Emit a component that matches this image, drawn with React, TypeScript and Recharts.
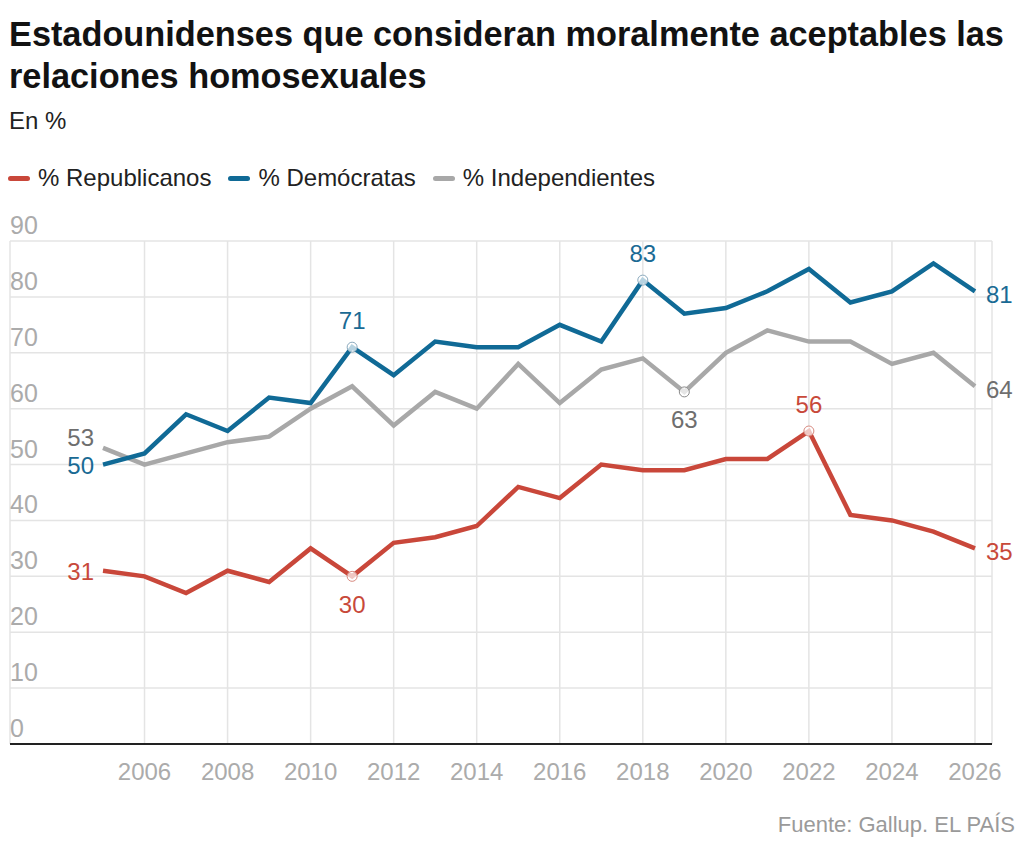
import React from "react";
import { LineChart, Line, XAxis, YAxis, CartesianGrid } from "recharts";

const years = [2005, 2006, 2007, 2008, 2009, 2010, 2011, 2012, 2013, 2014, 2015, 2016, 2017, 2018, 2019, 2020, 2021, 2022, 2023, 2024, 2025, 2026];
const republicanos = [31, 30, 27, 31, 29, 35, 30, 36, 37, 39, 46, 44, 50, 49, 49, 51, 51, 56, 41, 40, 38, 35];
const democratas = [50, 52, 59, 56, 62, 61, 71, 66, 72, 71, 71, 75, 72, 83, 77, 78, 81, 85, 79, 81, 86, 81];
const independientes = [53, 50, 52, 54, 55, 60, 64, 57, 63, 60, 68, 61, 67, 69, 63, 70, 74, 72, 72, 68, 70, 64];

const xTicks = [2006, 2008, 2010, 2012, 2014, 2016, 2018, 2020, 2022, 2024, 2026];
const yTicks = [0, 10, 20, 30, 40, 50, 60, 70, 80, 90];

// annotations: year -> label position
const repLabels: Record<number, string> = { 2005: "left", 2011: "bottom", 2022: "top", 2026: "right" };
const demLabels: Record<number, string> = { 2005: "left", 2011: "top", 2018: "top", 2026: "right" };
const indLabels: Record<number, string> = { 2005: "leftAbove", 2019: "bottom", 2026: "right" };
const repDots = [2011, 2022];
const demDots = [2011, 2018];
const indDots = [2019];

const data = years.map((y, i) => ({
  year: y,
  rep: republicanos[i],
  dem: democratas[i],
  ind: independientes[i],
}));

const FONT = "'Liberation Sans', Arial, sans-serif";
const RED = "#c9473a";
const BLUE = "#106a96";
const GRAY = "#a8a8a8";
const RED_T = "#c8493a";
const BLUE_T = "#1a6a94";
const GRAY_T = "#6e6e6e";

const makeLabel = (map: Record<number, string>, color: string) => (props: any) => {
  const { x, y, index, value } = props;
  const yr = years[index];
  const pos = map[yr];
  if (!pos) return <g key={"l" + index} />;
  let tx = x;
  let ty = y;
  let anchor: "start" | "middle" | "end" = "middle";
  if (pos === "left") { tx = x - 9; anchor = "end"; ty = y + 1; }
  if (pos === "leftAbove") { tx = x - 9; anchor = "end"; ty = y - 10; }
  if (pos === "right") { tx = x + 11; anchor = "start"; ty = y + 3; }
  if (pos === "top") { ty = y - 27; }
  if (pos === "bottom") { ty = y + 28; }
  return (
    <text key={"l" + index} x={tx} y={ty} textAnchor={anchor} dominantBaseline="central"
      fill={color} fontSize={24} fontFamily={FONT}>
      {value}
    </text>
  );
};

const makeDot = (list: number[], stroke: string) => (props: any) => {
  const { cx, cy, index } = props;
  if (!list.includes(years[index])) return <g key={"d" + index} />;
  return <circle key={"d" + index} cx={cx} cy={cy} r={5} fill="rgba(255,255,255,0.7)" stroke={stroke} strokeWidth={1} />;
};

const YTick = (props: any) => {
  const { x, y, payload } = props;
  return (
    <text x={x} y={y - 7} textAnchor="start" fill="#ababab" fontSize={25} fontFamily={FONT}>
      {payload.value}
    </text>
  );
};

const XTick = (props: any) => {
  const { x, y, payload } = props;
  return (
    <text x={x} y={y + 36} textAnchor="middle" fill="#ababab" fontSize={24} fontFamily={FONT}>
      {payload.value}
    </text>
  );
};

const legendItems = [
  { name: "% Republicanos", color: RED },
  { name: "% Demócratas", color: BLUE },
  { name: "% Independientes", color: GRAY },
];

export default function App() {
  return (
    <div style={{ position: "absolute", left: 0, top: 0, width: 1024, height: 851, background: "#fff", fontFamily: FONT, overflow: "hidden" }}>
      <div style={{ position: "absolute", left: 9, top: 13, width: 1012, fontSize: 34.3, lineHeight: "42px", fontWeight: 700, color: "#121212" }}>
        Estadounidenses que consideran moralmente aceptables las relaciones homosexuales
      </div>
      <div style={{ position: "absolute", left: 9, top: 107, fontSize: 24, color: "#222" }}>En %</div>
      <div style={{ position: "absolute", left: 8, top: 164, display: "flex", alignItems: "center", fontSize: 24, color: "#222" }}>
        {legendItems.map((it) => (
          <div key={it.name} style={{ display: "flex", alignItems: "center", marginRight: 17 }}>
            <div style={{ width: 22, height: 5, borderRadius: 3, background: it.color, marginRight: 8 }} />
            <span>{it.name}</span>
          </div>
        ))}
      </div>
      <div style={{ position: "absolute", left: 0, top: 0 }}>
        <LineChart width={1024} height={800} data={data} margin={{ top: 241, right: 32, left: 10, bottom: 16 }}>
          <CartesianGrid stroke="#e4e4e4" strokeWidth={1.5} />
          <XAxis dataKey="year" type="number" domain={[2002.76, 2026.41]} ticks={xTicks} height={40}
            axisLine={{ stroke: "#222", strokeWidth: 2 }} tickLine={false} tickSize={0} tickMargin={0}
            tick={<XTick />} interval={0} allowDataOverflow />
          <YAxis type="number" domain={[0, 90]} ticks={yTicks} width={1} mirror axisLine={false} tickLine={false}
            tickSize={0} tickMargin={0} tick={<YTick />} interval={0} />
          <Line dataKey="ind" stroke={GRAY} strokeWidth={4.5} isAnimationActive={false}
            dot={makeDot(indDots, "#8a8a8a")} activeDot={false} label={makeLabel(indLabels, GRAY_T)} />
          <Line dataKey="rep" stroke={RED} strokeWidth={4.5} isAnimationActive={false}
            dot={makeDot(repDots, "#d88a80")} activeDot={false} label={makeLabel(repLabels, RED_T)} />
          <Line dataKey="dem" stroke={BLUE} strokeWidth={4.5} isAnimationActive={false}
            dot={makeDot(demDots, "#8aa9bd")} activeDot={false} label={makeLabel(demLabels, BLUE_T)} />
        </LineChart>
      </div>
      <div style={{ position: "absolute", right: 9, top: 812, fontSize: 22, color: "#9a9a9a" }}>Fuente: Gallup. EL PAÍS</div>
    </div>
  );
}
